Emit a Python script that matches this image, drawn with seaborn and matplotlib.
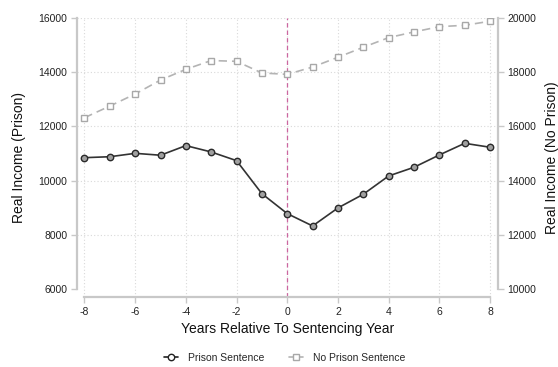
import matplotlib
matplotlib.use("Agg")
import matplotlib.pyplot as plt
import seaborn as sns
import pandas as pd
from matplotlib.lines import Line2D

years = list(range(-8, 9))
prison_income = [10845, 10880, 11005, 10935, 11290, 11055, 10735, 9515, 8780,
                 8325, 8990, 9495, 10170, 10490, 10945, 11375, 11230]
no_prison_income = [16320, 16750, 17195, 17710, 18105, 18430, 18400, 17970, 17920,
                    18190, 18550, 18920, 19275, 19485, 19680, 19730, 19880]
left_ticks = [6000, 8000, 10000, 12000, 14000, 16000]
right_ticks = [10000, 12000, 14000, 16000, 18000, 20000]
x_ticks = [-8, -6, -4, -2, 0, 2, 4, 6, 8]

sns.set_theme(style="white")
plt.rcParams["font.family"] = ["Liberation Sans", "DejaVu Sans"]

df_p = pd.DataFrame({"year": years, "income": prison_income})
df_n = pd.DataFrame({"year": years, "income": no_prison_income})

fig = plt.figure(figsize=(5.58, 3.67), dpi=100)
ax = fig.add_axes([0.1378, 0.1905, 0.754, 0.7605])
ax2 = ax.twinx()

spine_col = "#c8c8c8"
grid_col = "#d9d9d9"

# dotted grid and reference line on the primary axes
for y in left_ticks[1:]:
    ax.axhline(y, color=grid_col, lw=0.8, ls=(0, (1, 2)), zorder=0)
for x in x_ticks:
    ax.axvline(x, color=grid_col, lw=0.8, ls=(0, (1, 2)), zorder=0)
ax.axvline(0, color="#cc66a0", lw=0.9, ls=(0, (3.5, 2.5)), zorder=1)

sns.lineplot(data=df_p, x="year", y="income", ax=ax, color="#333333", lw=1.2,
             marker="o", markersize=4.6, markerfacecolor="#a0a0a0",
             markeredgecolor="#2a2a2a", markeredgewidth=1.0, zorder=3)
sns.lineplot(data=df_n, x="year", y="income", ax=ax2, color="#b4b4b4", lw=1.2,
             marker="s", markersize=4.6, markerfacecolor="white",
             markeredgecolor="#a8a8a8", markeredgewidth=1.0,
             dashes=False, zorder=3)
ax2.lines[0].set_dashes([5, 3])

ax.set_xlim(-8.3, 8.3)
ax.set_ylim(5700, 16000)
ax2.set_ylim(9700, 20000)
ax.set_xticks(x_ticks)
ax.set_yticks(left_ticks)
ax2.set_yticks(right_ticks)
ax.set_xticklabels([str(v) for v in x_ticks])
ax.set_yticklabels([str(v) for v in left_ticks])
ax2.set_yticklabels([str(v) for v in right_ticks])

for a in (ax, ax2):
    for s in a.spines.values():
        s.set_visible(False)
ax.spines["left"].set_visible(True)
ax.spines["bottom"].set_visible(True)
ax2.spines["right"].set_visible(True)
ax.spines["left"].set_bounds(6000, 16000)
ax.spines["bottom"].set_bounds(-8, 8)
ax2.spines["right"].set_bounds(10000, 20000)
for s in (ax.spines["left"], ax.spines["bottom"], ax2.spines["right"]):
    s.set_color(spine_col)
    s.set_linewidth(1.6)

ax.tick_params(axis="both", which="major", length=4, width=1.0, color=spine_col,
               labelsize=7.5, labelcolor="#222222", pad=3, left=True, bottom=True)
ax2.tick_params(axis="y", which="major", length=4, width=1.0, color=spine_col,
                labelsize=7.5, labelcolor="#222222", pad=3, right=True)

ax.set_xlabel("Years Relative To Sentencing Year", fontsize=10, color="#111111", labelpad=4)
ax.set_ylabel("Real Income (Prison)", fontsize=10, color="#111111", labelpad=9)
ax2.set_ylabel("Real Income (No Prison)", fontsize=10, color="#111111", labelpad=6)

handles = [
    Line2D([], [], color="#222222", lw=1.2, marker="o", markersize=4.6,
           markerfacecolor="white", markeredgecolor="#222222"),
    Line2D([], [], color="#b4b4b4", lw=1.2, marker="s", markersize=4.6,
           markerfacecolor="white", markeredgecolor="#a8a8a8"),
]
fig.legend(handles, ["Prison Sentence", "No Prison Sentence"], loc="center",
           bbox_to_anchor=(0.51, 0.025), ncol=2, frameon=False, fontsize=7.5,
           handlelength=1.35, columnspacing=2.3, handletextpad=1.0)

fig.savefig("out.png", dpi=100)
